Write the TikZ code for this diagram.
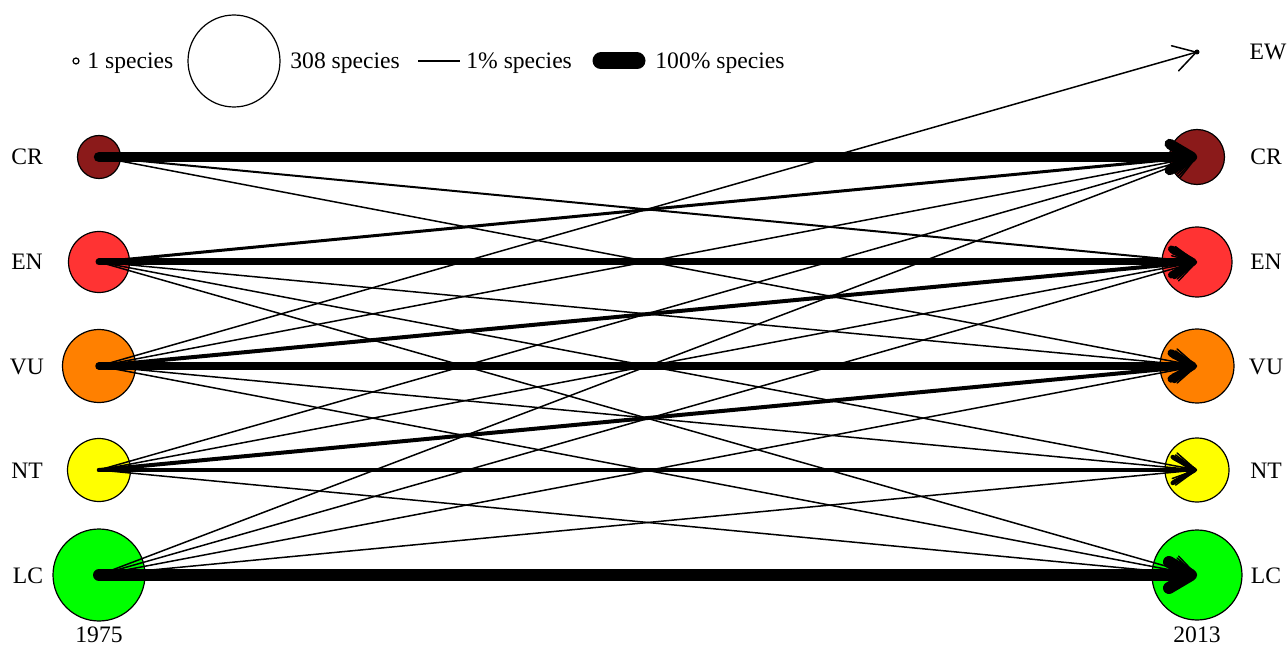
\documentclass[tikz,border=0pt]{standalone}
\usepackage{fontspec}
\setmainfont{Liberation Serif}
\usetikzlibrary{arrows.meta}

\definecolor{crcol}{HTML}{8B1A1A}
\definecolor{encol}{HTML}{FF3333}
\definecolor{vucol}{HTML}{FF8000}
\definecolor{ntcol}{HTML}{FFFF00}
\definecolor{lccol}{HTML}{00FF00}

\tikzset{
  cat/.style={circle, draw, line width=0.6pt, inner sep=0pt},
  lab/.style={anchor=base, inner sep=0pt},
  flow/.style={line width=#1, line cap=round, line join=round,
    -{Straight Barb[length=11pt, width=13pt, round]}},
}

\begin{document}
\begin{tikzpicture}[x=0.5pt, y=-0.5pt, font=\fontsize{11.8}{14}\selectfont]
\useasboundingbox (0,0) rectangle (1287,647);

% legend
\node[cat, minimum size=3pt] (one) at (76,61) {};
\node[lab, anchor=base west] at (87,69) {1 species};
\node[cat, minimum size=46pt] (big) at (234,61) {};
\node[lab, anchor=base west] at (290,69) {308 species};
\draw[line width=0.75pt] (418,61) -- (460,61);
\node[lab, anchor=base west] at (466,69) {1\% species};
\draw[line width=8.5pt, line cap=round] (601,61) -- (637,61);
\node[lab, anchor=base west] at (655,69) {100\% species};

% 1975
\node[cat, fill=crcol, minimum size=21.5pt] (crA) at (99,157) {};
\node[cat, fill=encol, minimum size=30.5pt] (enA) at (99,262) {};
\node[cat, fill=vucol, minimum size=36.5pt] (vuA) at (99,366) {};
\node[cat, fill=ntcol, minimum size=31.5pt] (ntA) at (99,470) {};
\node[cat, fill=lccol, minimum size=46pt] (lcA) at (99,575) {};

% 2013
\node[circle, fill=black, inner sep=0pt, minimum size=2.5pt] (ewB) at (1197,52) {};
\node[cat, fill=crcol, minimum size=27.5pt] (crB) at (1197,157) {};
\node[cat, fill=encol, minimum size=35pt] (enB) at (1197,262) {};
\node[cat, fill=vucol, minimum size=37pt] (vuB) at (1197,366) {};
\node[cat, fill=ntcol, minimum size=32pt] (ntB) at (1197,470) {};
\node[cat, fill=lccol, minimum size=45pt] (lcB) at (1197,575) {};

\node[lab] at (27,165) {CR};
\node[lab] at (27,270) {EN};
\node[lab] at (27,374) {VU};
\node[lab] at (27,478) {NT};
\node[lab] at (28,583) {LC};
\node[lab] at (1268,60) {EW};
\node[lab] at (1266,165) {CR};
\node[lab] at (1266,270) {EN};
\node[lab] at (1266,374) {VU};
\node[lab] at (1266,478) {NT};
\node[lab] at (1266,583) {LC};
\node[lab] at (99,642) {1975};
\node[lab] at (1197,642) {2013};

% flows
\draw[flow=5.25pt] (crA.center) -- (crB.center);
\draw[flow=1pt] (crA.center) -- (enB.center);
\draw[flow=0.75pt] (crA.center) -- (vuB.center);

\draw[flow=1.5pt] (enA.center) -- (crB.center);
\draw[flow=3.5pt] (enA.center) -- (enB.center);
\draw[flow=0.75pt] (enA.center) -- (vuB.center);
\draw[flow=0.75pt] (enA.center) -- (ntB.center);
\draw[flow=0.75pt] (enA.center) -- (lcB.center);

\draw[flow=0.75pt] (vuA.center) -- (ewB.center);
\draw[flow=0.75pt] (vuA.center) -- (crB.center);
\draw[flow=2pt] (vuA.center) -- (enB.center);
\draw[flow=3.75pt] (vuA.center) -- (vuB.center);
\draw[flow=0.75pt] (vuA.center) -- (ntB.center);
\draw[flow=0.75pt] (vuA.center) -- (lcB.center);

\draw[flow=0.75pt] (ntA.center) -- (crB.center);
\draw[flow=0.75pt] (ntA.center) -- (enB.center);
\draw[flow=2pt] (ntA.center) -- (vuB.center);
\draw[flow=2.25pt] (ntA.center) -- (ntB.center);
\draw[flow=0.75pt] (ntA.center) -- (lcB.center);

\draw[flow=0.75pt] (lcA.center) -- (crB.center);
\draw[flow=0.75pt] (lcA.center) -- (enB.center);
\draw[flow=0.75pt] (lcA.center) -- (vuB.center);
\draw[flow=0.75pt] (lcA.center) -- (ntB.center);
\draw[flow=6pt] (lcA.center) -- (lcB.center);
\end{tikzpicture}
\end{document}
